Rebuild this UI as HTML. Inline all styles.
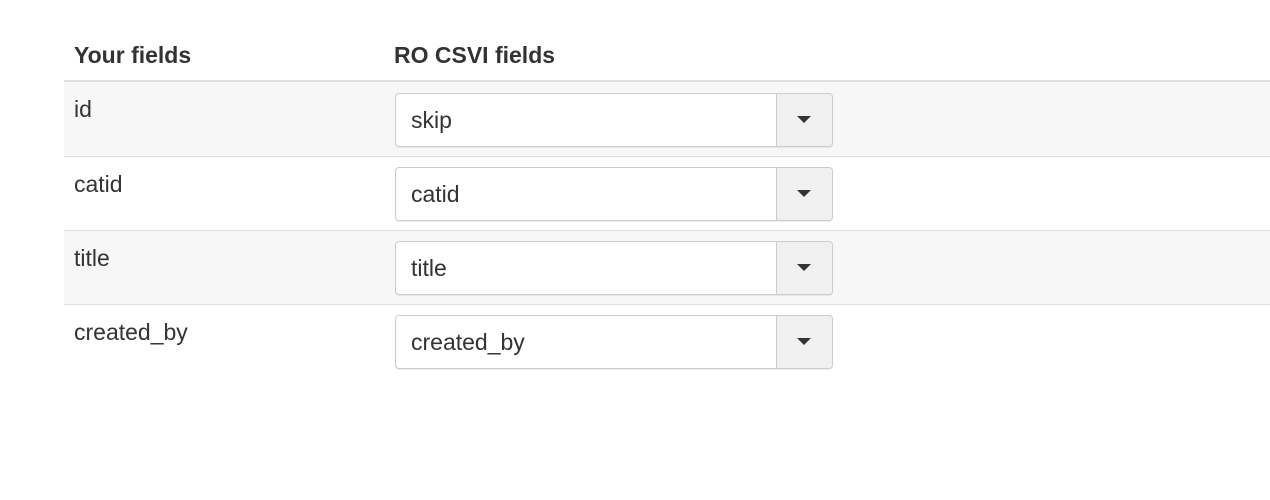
<!DOCTYPE html>
<html><head><style>
body{margin:0;width:1270px;height:500px;background:#fff;font-family:"Liberation Sans",Arial,sans-serif;color:#333;position:relative;overflow:hidden}
.h{position:absolute;top:42px;font-weight:bold;font-size:23px}
.hb{position:absolute;left:64px;width:1206px;top:80px;height:2px;background:#ddd}
.row{position:absolute;left:64px;width:1206px;height:74px}
.row.s{background:#f7f7f7}
.bl{position:absolute;left:64px;width:1206px;height:1px;background:#ddd}
.lbl{position:absolute;left:10px;top:14px;font-size:23px}
.sel{position:absolute;left:331px;top:11px;width:436px;height:52px;border:1px solid #ccc;border-radius:4px;background:#fff;box-shadow:0 1px 1px rgba(0,0,0,.07)}
.sel span{position:absolute;left:15px;top:13px;font-size:23px}
.btn{position:absolute;right:0;top:0;width:55px;height:52px;border-left:1px solid #ccc;background:#f0f0f0;border-radius:0 4px 4px 0}
.btn:after{content:"";position:absolute;left:20px;top:22px;border-left:7px solid transparent;border-right:7px solid transparent;border-top:7px solid #333}
</style></head><body>
<div class="h" style="left:74px">Your fields</div>
<div class="h" style="left:394px">RO CSVI fields</div>
<div class="hb"></div>
<div class="row s" style="top:82px"><div class="lbl">id</div><div class="sel"><span>skip</span><div class="btn"></div></div></div>
<div class="bl" style="top:156px"></div>
<div class="row" style="top:157px"><div class="lbl">catid</div><div class="sel" style="top:10px"><span>catid</span><div class="btn"></div></div></div>
<div class="bl" style="top:230px"></div>
<div class="row s" style="top:231px"><div class="lbl">title</div><div class="sel" style="top:10px"><span>title</span><div class="btn"></div></div></div>
<div class="bl" style="top:304px"></div>
<div class="row" style="top:305px"><div class="lbl">created_by</div><div class="sel" style="top:10px"><span>created_by</span><div class="btn"></div></div></div>
</body></html>
